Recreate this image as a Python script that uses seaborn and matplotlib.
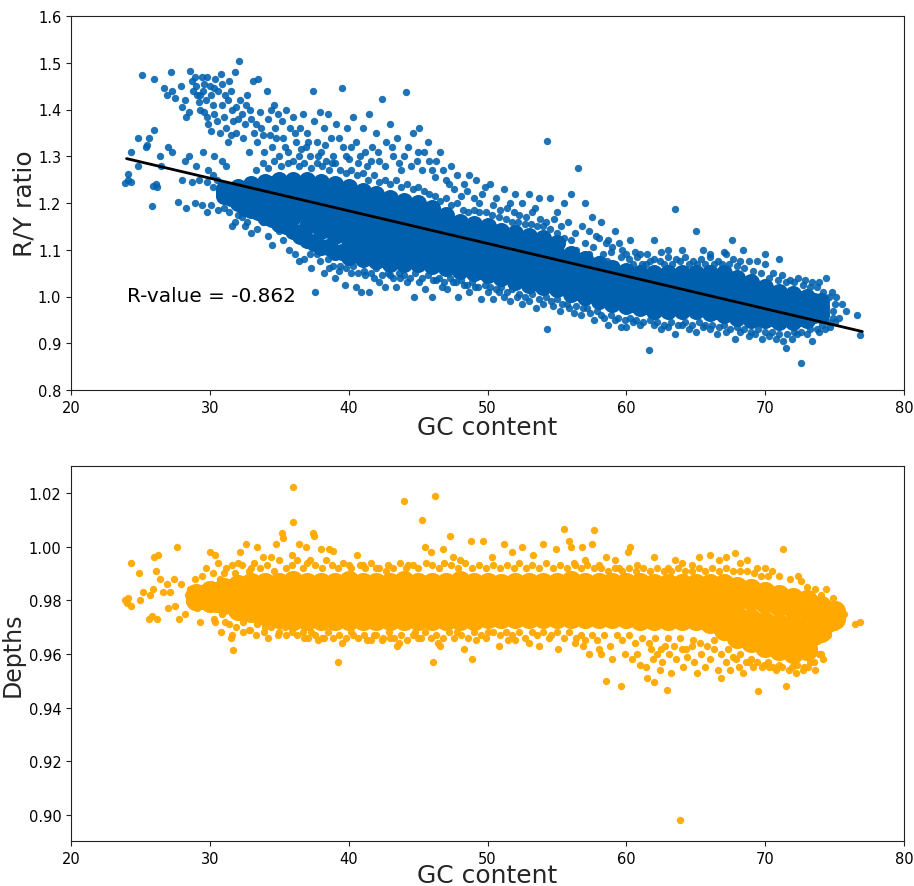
import matplotlib
matplotlib.use("Agg")
import matplotlib.pyplot as plt
import seaborn as sns

core_gc = list(range(31, 75))
half_gc = [31.5,32.5,33.5,34.5,35.5,36.5,37.5,38.5,39.5,40.5,41.5,42.5,43.5,44.5,45.5,46.5,47.5,48.5,49.5,50.5,51.5,52.5,53.5,54.5,55.5,56.5,57.5,58.5,59.5,60.5,61.5,62.5,63.5,64.5,65.5,66.5,67.5,68.5,69.5,70.5,71.5,72.5,73.5]
ry_core_a = [1.23,1.235,1.24,1.245,1.25,1.25,1.25,1.245,1.24,1.235,1.225,1.22,1.21,1.205,1.20,1.19,1.175,1.16,1.155,1.15,1.14,1.135,1.13,1.125,1.115,1.09,1.08,1.07,1.06,1.055,1.05,1.05,1.05,1.05,1.05,1.05,1.05,1.04,1.03,1.02,1.01,1.005,1.0,0.99]
ry_core_b = [1.225,1.23,1.23,1.23,1.23,1.22,1.22,1.21,1.205,1.20,1.19,1.185,1.18,1.17,1.17,1.16,1.15,1.135,1.13,1.125,1.115,1.11,1.105,1.10,1.09,1.07,1.06,1.05,1.04,1.035,1.03,1.03,1.03,1.03,1.03,1.03,1.03,1.02,1.01,1.0,0.995,0.99,0.985,0.98]
ry_core_c = [1.22,1.22,1.21,1.21,1.20,1.195,1.185,1.175,1.17,1.16,1.15,1.15,1.14,1.135,1.135,1.13,1.12,1.11,1.10,1.10,1.09,1.085,1.08,1.075,1.065,1.05,1.04,1.03,1.025,1.02,1.015,1.01,1.01,1.01,1.01,1.01,1.005,1.0,0.99,0.985,0.98,0.975,0.975,0.975]
ry_core_d = [1.22,1.21,1.20,1.19,1.18,1.17,1.15,1.14,1.13,1.12,1.115,1.11,1.105,1.105,1.10,1.095,1.09,1.08,1.075,1.07,1.065,1.055,1.05,1.045,1.04,1.03,1.02,1.01,1.005,1.0,0.995,0.99,0.99,0.99,0.99,0.985,0.98,0.975,0.97,0.965,0.96,0.96,0.96,0.965]
ry_core_e = [1.215,1.20,1.185,1.17,1.155,1.14,1.12,1.105,1.095,1.085,1.08,1.075,1.07,1.07,1.07,1.065,1.06,1.055,1.05,1.045,1.04,1.03,1.025,1.02,1.015,1.005,1.0,0.99,0.985,0.98,0.975,0.97,0.97,0.97,0.97,0.965,0.96,0.955,0.95,0.95,0.945,0.945,0.95,0.96]
ry_half_f = [1.225,1.23,1.235,1.24,1.24,1.235,1.235,1.23,1.225,1.215,1.21,1.20,1.195,1.19,1.185,1.17,1.155,1.145,1.14,1.13,1.125,1.12,1.115,1.10,1.08,1.075,1.065,1.055,1.045,1.04,1.04,1.04,1.04,1.04,1.04,1.04,1.035,1.025,1.015,1.005,1.0,0.995,0.99]
ry_half_g = [1.22,1.22,1.22,1.22,1.215,1.205,1.20,1.195,1.185,1.175,1.17,1.165,1.16,1.155,1.15,1.14,1.13,1.12,1.115,1.105,1.10,1.095,1.09,1.08,1.065,1.055,1.045,1.035,1.03,1.025,1.02,1.02,1.02,1.02,1.02,1.015,1.01,1.005,1.0,0.99,0.985,0.985,0.98]
ry_half_h = [1.215,1.21,1.205,1.20,1.19,1.18,1.165,1.16,1.15,1.14,1.135,1.13,1.125,1.12,1.115,1.11,1.10,1.09,1.085,1.08,1.075,1.07,1.065,1.055,1.045,1.035,1.025,1.02,1.015,1.01,1.005,1.0,1.0,1.0,1.0,0.995,0.99,0.985,0.98,0.975,0.97,0.97,0.97]
ry_half_i = [1.21,1.19,1.18,1.165,1.15,1.13,1.115,1.105,1.095,1.09,1.085,1.08,1.08,1.08,1.08,1.075,1.065,1.06,1.055,1.05,1.045,1.04,1.035,1.03,1.02,1.01,1.005,1.0,0.995,0.985,0.98,0.98,0.98,0.98,0.975,0.97,0.965,0.96,0.955,0.955,0.955,0.955,0.96]

ry_cloud = [(25.1,1.474),(26.0,1.465),(26.7,1.445),(26.9,1.43),(27.2,1.48),(27.3,1.44),(27.5,1.425),(27.9,1.45),(28.0,1.405),(28.2,1.42),(28.3,1.385),(28.5,1.395),(28.6,1.483),(28.7,1.46),(28.9,1.47),(29.0,1.45),(29.1,1.43),(29.2,1.415),(29.3,1.40),(29.4,1.47),(29.5,1.44),(29.6,1.455),(29.7,1.42),(29.8,1.385),(29.9,1.37),(30.0,1.45),(30.1,1.43),(30.2,1.41),(30.3,1.39),(30.4,1.465),(30.5,1.375),(30.6,1.44),(30.7,1.35),(30.8,1.475),(30.9,1.41),(31.0,1.385),(31.1,1.43),(31.2,1.36),(31.3,1.33),(31.4,1.46),(31.5,1.44),(31.6,1.40),(31.7,1.375),(31.8,1.48),(31.9,1.35),(32.1,1.503),(32.2,1.42),(32.3,1.39),(32.4,1.34),(32.5,1.37),(32.6,1.41),(32.7,1.43),(32.8,1.31),(33.0,1.38),(33.1,1.46),(33.2,1.35),(33.4,1.33),(33.5,1.465),(33.6,1.395),(33.7,1.36),(33.9,1.31),(34.1,1.44),(34.2,1.38),(34.3,1.345),(34.5,1.32),(34.6,1.41),(34.7,1.36),(34.9,1.39),(35.0,1.30),(35.2,1.375),(35.3,1.34),(35.5,1.40),(35.6,1.31),(35.8,1.36),(36.0,1.385),(36.2,1.33),(36.4,1.30),(36.5,1.36),(36.7,1.39),(36.9,1.32),(37.0,1.35),(37.2,1.30),(37.4,1.44),(37.5,1.375),(37.7,1.33),(37.9,1.395),(38.0,1.31),(38.2,1.36),(38.4,1.29),(38.5,1.39),(38.7,1.34),(38.9,1.30),(39.1,1.37),(39.5,1.445),(39.6,1.32),(39.9,1.36),(40.0,1.295),(40.3,1.385),(40.5,1.33),(40.8,1.30),(41.0,1.36),(41.3,1.28),(41.5,1.39),(41.7,1.32),(42.0,1.35),(42.2,1.29),(42.4,1.423),(42.7,1.33),(43.0,1.37),(43.2,1.30),(43.5,1.34),(43.8,1.27),(44.1,1.437),(44.3,1.32),(44.6,1.35),(44.9,1.29),(45.1,1.36),(45.4,1.31),(45.7,1.33),(46.0,1.27),(46.3,1.29),(46.6,1.31),(47.0,1.25),(47.4,1.28),(47.8,1.26),(48.3,1.24),(48.7,1.26),(49.2,1.25),(49.6,1.22),(50.2,1.24),(50.6,1.21),(51.2,1.23),(51.6,1.20),(52.0,1.22),(52.5,1.20),(53.0,1.22),(53.4,1.19),(53.7,1.21),(54.3,1.332),(54.5,1.21),(55.0,1.18),(55.5,1.20),(56.0,1.22),(56.5,1.275),(57.0,1.20),(57.5,1.17),(56.8,1.15),(57.8,1.13),(58.2,1.16),(58.7,1.12),(59.2,1.14),(59.7,1.10),(60.3,1.12),(61.0,1.09),(62.0,1.12),(63.5,1.187),(64.0,1.10),(65.0,1.14),(66.0,1.09),(67.0,1.095),(67.6,1.12),(68.4,1.10),(70.0,1.09),(71.0,1.08)]
ry_cloud2 = [(29.3,1.43),(29.8,1.47),(30.3,1.445),(30.9,1.455),(31.3,1.42),(31.9,1.405),(28.8,1.44),(29.6,1.395),(30.1,1.355),(31.5,1.345),(32.0,1.38),(32.9,1.40),(33.3,1.37),(33.8,1.345),(34.4,1.40),(34.8,1.34),(35.4,1.32),(36.1,1.35),(36.6,1.315),(37.1,1.33),(37.8,1.30),(38.3,1.325),(38.8,1.285),(39.3,1.34),(39.8,1.30),(40.2,1.32),(40.7,1.285),(41.2,1.31),(41.6,1.29),(42.1,1.31),(42.6,1.28),(43.1,1.32),(43.6,1.285),(44.0,1.30),(44.5,1.28),(45.0,1.31),(45.3,1.27),(45.8,1.29),(46.2,1.255),(46.8,1.27),(47.2,1.24),(47.6,1.23),(48.1,1.215),(48.5,1.225),(49.0,1.21),(49.4,1.20),(49.8,1.235),(50.4,1.195),(50.9,1.185),(51.4,1.19),(51.9,1.18),(52.3,1.175),(52.8,1.17),(53.2,1.18),(53.8,1.165),(54.2,1.16),(54.8,1.165),(55.3,1.15),(55.8,1.16),(56.3,1.135),(57.3,1.14),(58.0,1.125),(58.5,1.115),(59.0,1.105),(59.5,1.115),(60.0,1.09),(60.6,1.095),(61.5,1.09),(62.5,1.095),(63.0,1.10),(65.5,1.10)]
ry_left = [(23.9,1.243),(24.1,1.262),(24.1,1.25),(24.3,1.245),(24.3,1.309),(24.8,1.279),(24.8,1.339),(25.4,1.32),(25.5,1.323),(25.6,1.339),(25.8,1.194),(25.9,1.237),(26.0,1.356),(26.1,1.24),(26.2,1.235),(26.4,1.30),(26.5,1.28),(27.0,1.32),(27.3,1.31),(27.7,1.202),(28.0,1.25),(28.2,1.29),(28.3,1.19),(28.5,1.30),(28.7,1.245),(28.9,1.20),(29.0,1.28),(29.2,1.25),(29.4,1.195),(29.5,1.31),(29.8,1.18),(29.9,1.27),(30.1,1.195),(30.2,1.26),(30.3,1.30),(30.6,1.185),(30.9,1.29),(31.2,1.28),(31.6,1.15),(31.8,1.16),(32.3,1.17),(32.7,1.16),(33.0,1.135),(33.4,1.145),(33.8,1.16),(34.2,1.13),(34.5,1.11),(35.0,1.14),(35.3,1.12),(35.7,1.10),(36.1,1.09),(36.4,1.075),(37.6,1.01),(29.8,1.245),(30.2,1.235),(30.5,1.25),(30.8,1.24),(31.0,1.19),(31.4,1.18),(32.0,1.175),(32.5,1.15)]
ry_lower = [(36.8,1.08),(37.3,1.06),(37.7,1.09),(38.2,1.05),(38.6,1.06),(39.0,1.04),(39.4,1.065),(39.7,1.025),(40.2,1.05),(40.5,1.02),(40.9,1.01),(41.2,1.045),(41.5,1.01),(41.8,1.04),(42.2,1.03),(42.6,1.02),(43.0,1.045),(43.4,1.02),(43.7,1.04),(44.2,1.03),(44.7,1.00),(45.1,1.03),(45.5,1.015),(46.0,1.0),(46.3,1.035),(46.7,1.02),(47.1,1.015),(47.5,1.03),(47.9,1.0),(48.3,1.025),(48.7,1.01),(49.1,1.02),(49.5,0.995),(50.0,1.01),(50.4,0.995),(50.8,1.01),(51.2,1.0),(51.6,0.99),(52.1,1.0),(52.5,0.985),(53.0,0.99),(53.5,0.975),(54.0,0.985),(54.3,0.93),(54.7,0.98),(55.2,0.97),(55.7,0.985),(56.2,0.965),(56.7,0.96),(57.2,0.975),(57.7,0.95),(58.2,0.96),(58.7,0.94),(59.2,0.95),(59.6,0.935),(60.0,0.935),(60.5,0.945),(61.0,0.94),(61.6,0.885),(62.0,0.94),(62.5,0.93),(63.0,0.935),(63.5,0.92),(64.0,0.94),(64.5,0.93),(65.0,0.925),(65.5,0.935),(66.0,0.93),(66.5,0.92),(67.2,0.925),(67.8,0.91),(68.2,0.925),(68.8,0.915),(69.3,0.92),(69.8,0.91),(70.3,0.915),(70.8,0.91),(71.3,0.905),(71.5,0.89),(71.9,0.91),(72.3,0.92),(72.6,0.857),(73.0,0.92),(73.4,0.905),(73.9,0.925),(74.3,0.93),(74.7,0.935),(75.0,0.945),(75.3,0.955),(76.6,0.96),(76.8,0.918)]
ry_band_low = [(37.2,1.09),(37.9,1.075),(38.5,1.08),(38.9,1.065),(39.3,1.055),(39.8,1.06),(40.3,1.065),(40.7,1.05),(41.1,1.055),(41.6,1.05),(42.0,1.06),(42.4,1.045),(42.8,1.05),(43.2,1.04),(43.6,1.05),(44.0,1.045),(44.4,1.04),(44.8,1.05),(45.3,1.04),(45.7,1.045),(46.1,1.035),(46.5,1.04),(46.9,1.03),(47.3,1.04),(47.7,1.03),(48.1,1.035),(48.5,1.025),(48.9,1.03),(49.3,1.02),(49.8,1.025),(50.2,1.02),(50.6,1.015),(51.0,1.02),(51.4,1.01),(51.8,1.015),(52.3,1.005),(52.7,1.0),(53.2,1.005),(53.7,0.995),(54.2,1.0),(54.6,0.99),(55.0,0.995),(55.4,0.985),(55.9,0.975),(56.4,0.98),(56.9,0.975),(57.4,0.965),(57.9,0.97),(58.4,0.955),(58.9,0.96),(59.4,0.955),(59.9,0.95),(60.3,0.955),(60.7,0.95),(61.2,0.945),(61.7,0.95),(62.2,0.945),(62.7,0.94),(63.2,0.945),(63.7,0.94),(64.2,0.945),(64.7,0.94),(65.2,0.945),(65.7,0.94),(66.2,0.94),(66.7,0.935),(67.0,0.94),(67.5,0.93),(68.0,0.935),(68.5,0.93),(69.0,0.925),(69.5,0.93),(70.0,0.925),(70.5,0.925),(71.0,0.92),(71.6,0.92),(72.1,0.925),(72.6,0.925),(73.2,0.93),(73.7,0.93),(74.1,0.94),(74.5,0.945),(74.9,0.955)]
ry_band_top = [(33.3,1.27),(33.8,1.285),(34.2,1.275),(34.6,1.29),(35.1,1.28),(35.6,1.285),(36.0,1.29),(36.4,1.28),(36.8,1.285),(37.3,1.275),(37.7,1.285),(38.1,1.28),(38.6,1.27),(39.0,1.285),(39.4,1.27),(39.8,1.265),(40.2,1.27),(40.6,1.26),(41.0,1.265),(41.4,1.25),(41.8,1.26),(42.2,1.245),(42.6,1.25),(43.0,1.24),(43.4,1.25),(43.8,1.235),(44.2,1.24),(44.6,1.23),(45.0,1.235),(45.4,1.225),(45.8,1.22),(46.2,1.215),(46.6,1.205),(47.0,1.21),(47.4,1.195),(47.8,1.20),(48.2,1.185),(48.6,1.18),(49.0,1.185),(49.4,1.18),(49.9,1.18),(50.3,1.175),(50.8,1.17),(51.3,1.165),(51.8,1.16),(52.2,1.16),(52.7,1.155),(53.1,1.155),(53.6,1.15),(54.0,1.15),(54.5,1.145),(55.0,1.135),(55.5,1.125),(56.0,1.12)]
ry_upper = [(57.0,1.115),(57.6,1.105),(58.3,1.09),(58.9,1.095),(59.6,1.085),(60.2,1.08),(60.8,1.085),(61.4,1.07),(62.0,1.08),(62.4,1.075),(63.0,1.085),(63.6,1.08),(64.2,1.085),(64.8,1.075),(65.4,1.08),(66.0,1.085),(66.6,1.075),(67.2,1.09),(67.7,1.08),(68.2,1.075),(68.8,1.075),(69.4,1.075),(70.0,1.07),(70.6,1.05),(71.2,1.045),(71.8,1.035),(72.4,1.04),(72.9,1.035),(73.4,1.03),(73.9,1.03),(74.4,1.04),(74.8,1.01),(75.1,1.0),(75.5,0.985),(75.8,0.97),(56.4,1.10),(57.3,1.09),(58.0,1.08),(58.6,1.075),(59.2,1.07),(60.5,1.07),(61.1,1.07),(61.7,1.075),(62.7,1.07),(63.3,1.07),(63.9,1.075),(64.5,1.07),(65.1,1.07),(65.7,1.07),(66.3,1.07),(66.9,1.07),(67.4,1.07),(68.0,1.065),(68.5,1.06),(69.1,1.055),(69.7,1.05),(70.3,1.04),(70.9,1.035),(71.5,1.03),(72.1,1.03),(72.7,1.025),(73.2,1.02),(73.7,1.02),(74.2,1.01),(74.6,1.0),(75.0,0.985),(74.9,0.97)]

line_gc = [24.0, 77.0]
line_ry = [1.295, 0.925]

depth_gc = list(range(29, 76))
depth_half_gc = [29.5,30.5,31.5,32.5,33.5,34.5,35.5,36.5,37.5,38.5,39.5,40.5,41.5,42.5,43.5,44.5,45.5,46.5,47.5,48.5,49.5,50.5,51.5,52.5,53.5,54.5,55.5,56.5,57.5,58.5,59.5,60.5,61.5,62.5,63.5,64.5,65.5,66.5,67.5,68.5,69.5,70.5,71.5,72.5,73.5,74.5]
depth_core_a = [.9825,.9835,.9845,.9855,.9865,.9865,.9865,.987,.9865,.9865,.9865,.987,.9865,.9865,.9865,.987,.9865,.9865,.9865,.987,.9865,.9865,.986,.9865,.9865,.9865,.9865,.987,.9865,.9865,.9865,.9865,.9865,.986,.986,.986,.986,.986,.986,.985,.984,.983,.982,.981,.980,.978,.976]
depth_core_b = [.981,.981,.9815,.982,.982,.982,.982,.982,.9825,.982,.982,.982,.982,.982,.982,.982,.9825,.982,.982,.982,.982,.982,.982,.982,.982,.982,.982,.982,.982,.982,.982,.982,.982,.982,.982,.981,.981,.981,.9805,.98,.98,.979,.978,.977,.977,.976,.975]
depth_core_c = [.980,.980,.979,.978,.978,.9775,.9775,.977,.977,.977,.977,.977,.977,.977,.977,.977,.977,.977,.977,.977,.977,.977,.977,.977,.977,.977,.977,.977,.977,.977,.977,.977,.977,.977,.977,.9765,.976,.975,.975,.974,.973,.972,.971,.971,.971,.972,.974]
depth_core_d = [.980,.9795,.9785,.9765,.9755,.9745,.9735,.9725,.9725,.9725,.9725,.9725,.9725,.9725,.9725,.9725,.9725,.9725,.9725,.9725,.9725,.9735,.9735,.9735,.9735,.9735,.9735,.9735,.9735,.9735,.9735,.9735,.9725,.9725,.9725,.9725,.9725,.9715,.9695,.967,.965,.963,.962,.961,.962,.968,.973]
depth_half_p = [.982,.983,.984,.985,.985,.985,.985,.985,.985,.985,.985,.985,.985,.985,.985,.985,.985,.985,.985,.985,.985,.985,.985,.985,.985,.985,.985,.985,.985,.985,.985,.985,.985,.985,.984,.984,.984,.984,.984,.983,.982,.981,.98,.979,.978,.976]
depth_half_q = [.9805,.9795,.979,.978,.9775,.9765,.975,.975,.975,.975,.975,.975,.975,.975,.975,.975,.975,.975,.975,.975,.975,.975,.975,.975,.975,.975,.975,.975,.975,.975,.975,.975,.975,.975,.975,.975,.975,.973,.972,.970,.969,.968,.967,.966,.967,.972]
depth_low_gc = [66,67,68,69,70,71,72,73]
depth_low = [.972,.969,.966,.9645,.9625,.9615,.9605,.9615]

depth_points = [(23.9,.980),(24.0,.979),(24.1,.981),(24.3,.978),(24.3,.994),(24.9,.990),(25.0,.980),(25.2,.983),(25.6,.973),(25.7,.982),(25.8,.974),(25.9,.984),(26.0,.996),(26.2,.973),(26.1,.991),(26.3,.997),(26.4,.988),(26.6,.983),(26.9,.986),(27.0,.977),(27.1,.983),(27.4,.988),(27.5,.978),(27.6,1.0),(27.8,.973),(27.9,.986),(28.2,.975),(28.4,.982),(28.6,.984),(28.9,.988),(29.1,.977),(29.3,.972),(29.4,.989),(29.7,.992),(29.8,.985),(30.0,.998),(30.1,.986),(30.3,.973),(30.4,.997),(30.6,.994),(30.8,.968),(31.0,.990),(31.1,.972),(31.5,.966),(31.6,.967),(31.6,.993),(31.7,.9615),(32.0,.994),(32.2,.998),(32.4,.968),(32.6,1.001),(32.8,.969),(33.0,.992),(33.3,.967),(33.4,1.0),(33.8,.996),(34.0,.97),(34.2,.966),(34.4,.996),(34.8,1.001),(35.0,.968),(35.2,1.005),(35.3,1.003),(35.5,.967),(35.9,.997),(36.0,1.022),(36.0,1.009),(36.4,1.001),(36.7,.968),(36.9,1.0),(37.1,.966),(37.2,.995),(37.4,1.005),(37.5,1.004),(37.8,.965),(38.0,.999),(38.2,.966),(38.6,.999),(38.9,.9985),(39.2,.957),(39.5,.964),(40.0,.993),(40.3,.967),(40.6,.997),(41.0,.993),(41.3,.965),(41.8,.967),(42.0,.992),(42.4,.965),(42.7,.991),(43.0,.966),(43.5,.963),(43.6,.964),(44.0,1.017),(44.3,.993),(44.8,.968),(45.2,.966),(45.3,1.01),(45.5,1.0),(45.9,.998),(46.1,.957),(46.2,1.019),(46.4,.964),(46.6,.963),(46.8,.999),(47.3,1.004),(47.5,.996),(47.8,.968),(48.0,.995),(48.3,.962),(48.9,.958),(48.8,1.002),(49.2,.965),(49.7,1.002),(50.0,.968),(50.3,.996),(50.8,.963),(51.2,1.001),(51.5,.965),(51.8,.998),(52.0,.965),(52.5,1.0),(53.0,.964),(53.3,.997),(53.7,.963),(54.0,1.001),(54.4,.966),(54.9,.999),(55.1,.962),(55.5,1.0065),(55.9,1.002),(56.0,1.0),(56.4,.966),(56.8,1.0),(56.9,.963),(57.3,.96),(57.7,1.006),(57.5,1.001),(58.0,.962),(58.2,.96),(58.5,.950),(58.5,.996),(59.0,.958),(59.2,.995),(59.6,.948),(59.9,.96),(60.1,.998),(60.3,1.0),(60.4,.958),(60.8,.96),(61.0,.956),(61.5,.951),(61.4,.955),(61.8,.962),(61.9,.958),(62.0,.9495),(62.2,.96),(62.4,.954),(62.6,.957),(62.8,.963),(62.9,.9465),(63.1,.96),(63.2,.953),(63.6,.958),(63.9,.898),(64.0,.962),(64.1,.955),(64.4,.959),(64.7,.963),(64.9,.957),(65.1,.953),(65.4,.96),(65.7,.955),(66.0,.958),(66.3,.962),(66.6,.954),(66.8,.951),(67.2,.957),(67.5,.954),(67.9,.958),(68.1,.955),(68.4,.953),(68.8,.957),(69.1,.955),(69.5,.946),(69.8,.955),(70.2,.957),(70.6,.955),(71.0,.956),(71.5,.948),(71.9,.955),(72.3,.956),(72.8,.955),(73.2,.957),(73.6,.954),(73.9,.96),(74.2,.958),(74.5,.967),(75.0,.97),(75.4,.973),(75.7,.975),(76.5,.971),(76.8,.972),(56.3,.993),(57.0,.995),(58.0,.993),(59.5,.992),(60.8,.993),(62.0,.996),(63.0,.992),(63.5,.995),(64.0,.994),(64.7,.993),(65.2,.996),(66.0,.997),(66.7,.995),(67.2,.996),(67.8,.9975),(68.2,.994),(68.7,.995),(69.4,.992),(70.0,.992),(70.5,.991),(71.3,.999),(71.0,.989),(71.8,.988),(72.4,.989),(72.6,.987),(73.0,.985),(73.6,.984),(74.0,.982),(74.4,.984),(74.9,.981),(75.3,.978)]
depth_top_edge = [(30.2,.990),(30.7,.988),(31.2,.992),(31.8,.990),(32.3,.993),(32.8,.991),(33.2,.994),(33.6,.992),(34.1,.993),(34.6,.991),(35.0,.995),(35.5,.992),(35.9,.993),(36.3,.995),(36.7,.992),(37.0,.994),(37.6,.993),(38.1,.992),(38.4,.995),(38.8,.993),(39.2,.992),(39.6,.994),(40.2,.992),(40.8,.993),(41.2,.992),(41.6,.994),(42.2,.992),(42.8,.993),(43.2,.992),(43.7,.994),(44.1,.992),(44.6,.993),(45.0,.992),(45.6,.994),(46.0,.993),(46.5,.992),(46.9,.994),(47.4,.993),(47.9,.992),(48.4,.994),(48.9,.992),(49.4,.993),(49.9,.992),(50.4,.993),(50.9,.992),(51.4,.993),(51.9,.992),(52.3,.994),(52.8,.992),(53.2,.993),(53.7,.992),(54.2,.994),(54.7,.992),(55.2,.993),(55.7,.992),(56.2,.994),(56.7,.992),(57.2,.993),(57.7,.992),(58.2,.992),(58.7,.991),(59.2,.992),(59.7,.991),(60.2,.992),(60.7,.991),(61.2,.992),(61.7,.991),(62.2,.992),(62.7,.991),(63.2,.991),(63.7,.992),(64.2,.991),(64.7,.991),(65.2,.992),(65.7,.991),(66.2,.992),(66.7,.991),(67.2,.992),(67.7,.991),(68.2,.991),(68.7,.991),(69.2,.990),(69.7,.989),(70.2,.989)]
depth_low_edge = [(30.4,.972),(30.9,.975),(31.4,.971),(31.9,.970),(32.4,.972),(32.9,.969),(33.4,.971),(33.9,.968),(34.4,.970),(34.9,.967),(35.4,.970),(35.9,.968),(36.3,.967),(36.8,.966),(37.3,.968),(37.6,.967),(38.1,.966),(38.5,.968),(38.9,.966),(39.3,.967),(39.8,.966),(40.2,.968),(40.7,.966),(41.1,.967),(41.6,.965),(42.0,.967),(42.5,.966),(42.9,.968),(43.3,.966),(43.8,.967),(44.2,.965),(44.6,.967),(45.0,.966),(45.5,.968),(45.9,.966),(46.3,.967),(46.8,.966),(47.2,.968),(47.6,.966),(48.1,.967),(48.6,.966),(49.0,.968),(49.5,.967),(49.9,.966),(50.4,.968),(50.9,.967),(51.3,.968),(51.8,.967),(52.3,.968),(52.7,.966),(53.2,.968),(53.6,.967),(54.0,.968),(54.6,.967),(55.0,.968),(55.5,.966),(55.9,.968),(56.3,.964),(56.7,.967),(57.0,.965),(57.5,.967),(57.9,.965),(58.4,.967),(58.8,.963),(59.3,.967),(59.7,.965),(60.2,.967),(60.6,.964),(61.1,.966),(61.6,.964),(62.1,.966),(62.5,.962),(63.0,.966),(63.4,.963),(63.9,.966),(64.3,.962),(64.8,.965),(65.3,.964),(65.8,.963),(66.3,.965),(66.8,.96),(67.3,.962),(67.7,.959),(68.2,.96),(68.6,.957),(69.0,.958),(69.4,.957),(69.9,.956),(70.3,.955),(70.8,.954),(71.2,.955),(71.7,.954),(72.2,.953),(72.7,.954),(73.1,.955),(73.5,.957),(74.0,.96)]

sns.set_theme(style="ticks")
plt.rcParams["font.family"] = "DejaVu Sans"
BLUE = "#0060ad"
ORANGE = "#ffa800"
W, H = 914, 887
fig = plt.figure(figsize=(W / 100, H / 100), dpi=100, facecolor="white")
ax1 = fig.add_axes([71 / W, 1 - 391 / H, 833 / W, 374 / H])
ax2 = fig.add_axes([71 / W, 1 - 842 / H, 833 / W, 375 / H])

for row in (ry_core_a, ry_core_b, ry_core_c, ry_core_d, ry_core_e):
    sns.scatterplot(x=core_gc, y=row, ax=ax1, color=BLUE, s=150, linewidth=0, legend=False)
for row in (ry_half_f, ry_half_g, ry_half_h, ry_half_i):
    sns.scatterplot(x=half_gc, y=row, ax=ax1, color=BLUE, s=150, linewidth=0, legend=False)
for group in (ry_cloud, ry_cloud2, ry_left, ry_lower, ry_band_low, ry_band_top, ry_upper):
    xs, ys = zip(*group)
    sns.scatterplot(x=list(xs), y=list(ys), ax=ax1, color=BLUE, s=28, alpha=0.88, linewidth=0, legend=False)
sns.lineplot(x=line_gc, y=line_ry, ax=ax1, color="black", linewidth=2, errorbar=None)
ax1.text(24, 1.003, "R-value = -0.862", fontsize=14.4, color="black", va="center")
ax1.set_xlim(20, 80)
ax1.set_ylim(0.8, 1.6)
ax1.set_ylabel("R/Y ratio", fontsize=18, labelpad=1)
ax1.set_xlabel("GC content", fontsize=18, labelpad=0)

for row in (depth_core_a, depth_core_b, depth_core_c, depth_core_d):
    sns.scatterplot(x=depth_gc, y=row, ax=ax2, color=ORANGE, s=230, linewidth=0, legend=False)
for row in (depth_half_p, depth_half_q):
    sns.scatterplot(x=depth_half_gc, y=row, ax=ax2, color=ORANGE, s=230, linewidth=0, legend=False)
sns.scatterplot(x=depth_low_gc, y=depth_low, ax=ax2, color=ORANGE, s=230, linewidth=0, legend=False)
for group in (depth_points, depth_top_edge, depth_low_edge):
    xs, ys = zip(*group)
    sns.scatterplot(x=list(xs), y=list(ys), ax=ax2, color=ORANGE, s=28, alpha=0.95, linewidth=0, legend=False)
ax2.set_xlim(20, 80)
ax2.set_ylim(0.8903, 1.03)
ax2.set_yticks([0.90, 0.92, 0.94, 0.96, 0.98, 1.00, 1.02])
ax2.set_ylabel("Depths", fontsize=17, labelpad=3)
ax2.set_xlabel("GC content", fontsize=18, labelpad=-2)

for ax in (ax1, ax2):
    ax.tick_params(labelsize=10.5, length=3.5, width=0.8, color="#222222", labelcolor="black")
    for s in ax.spines.values():
        s.set_linewidth(0.8)
        s.set_color("#222222")
ax1.set_yticks([0.8, 0.9, 1.0, 1.1, 1.2, 1.3, 1.4, 1.5, 1.6])
fig.savefig("out.png", dpi=100)
